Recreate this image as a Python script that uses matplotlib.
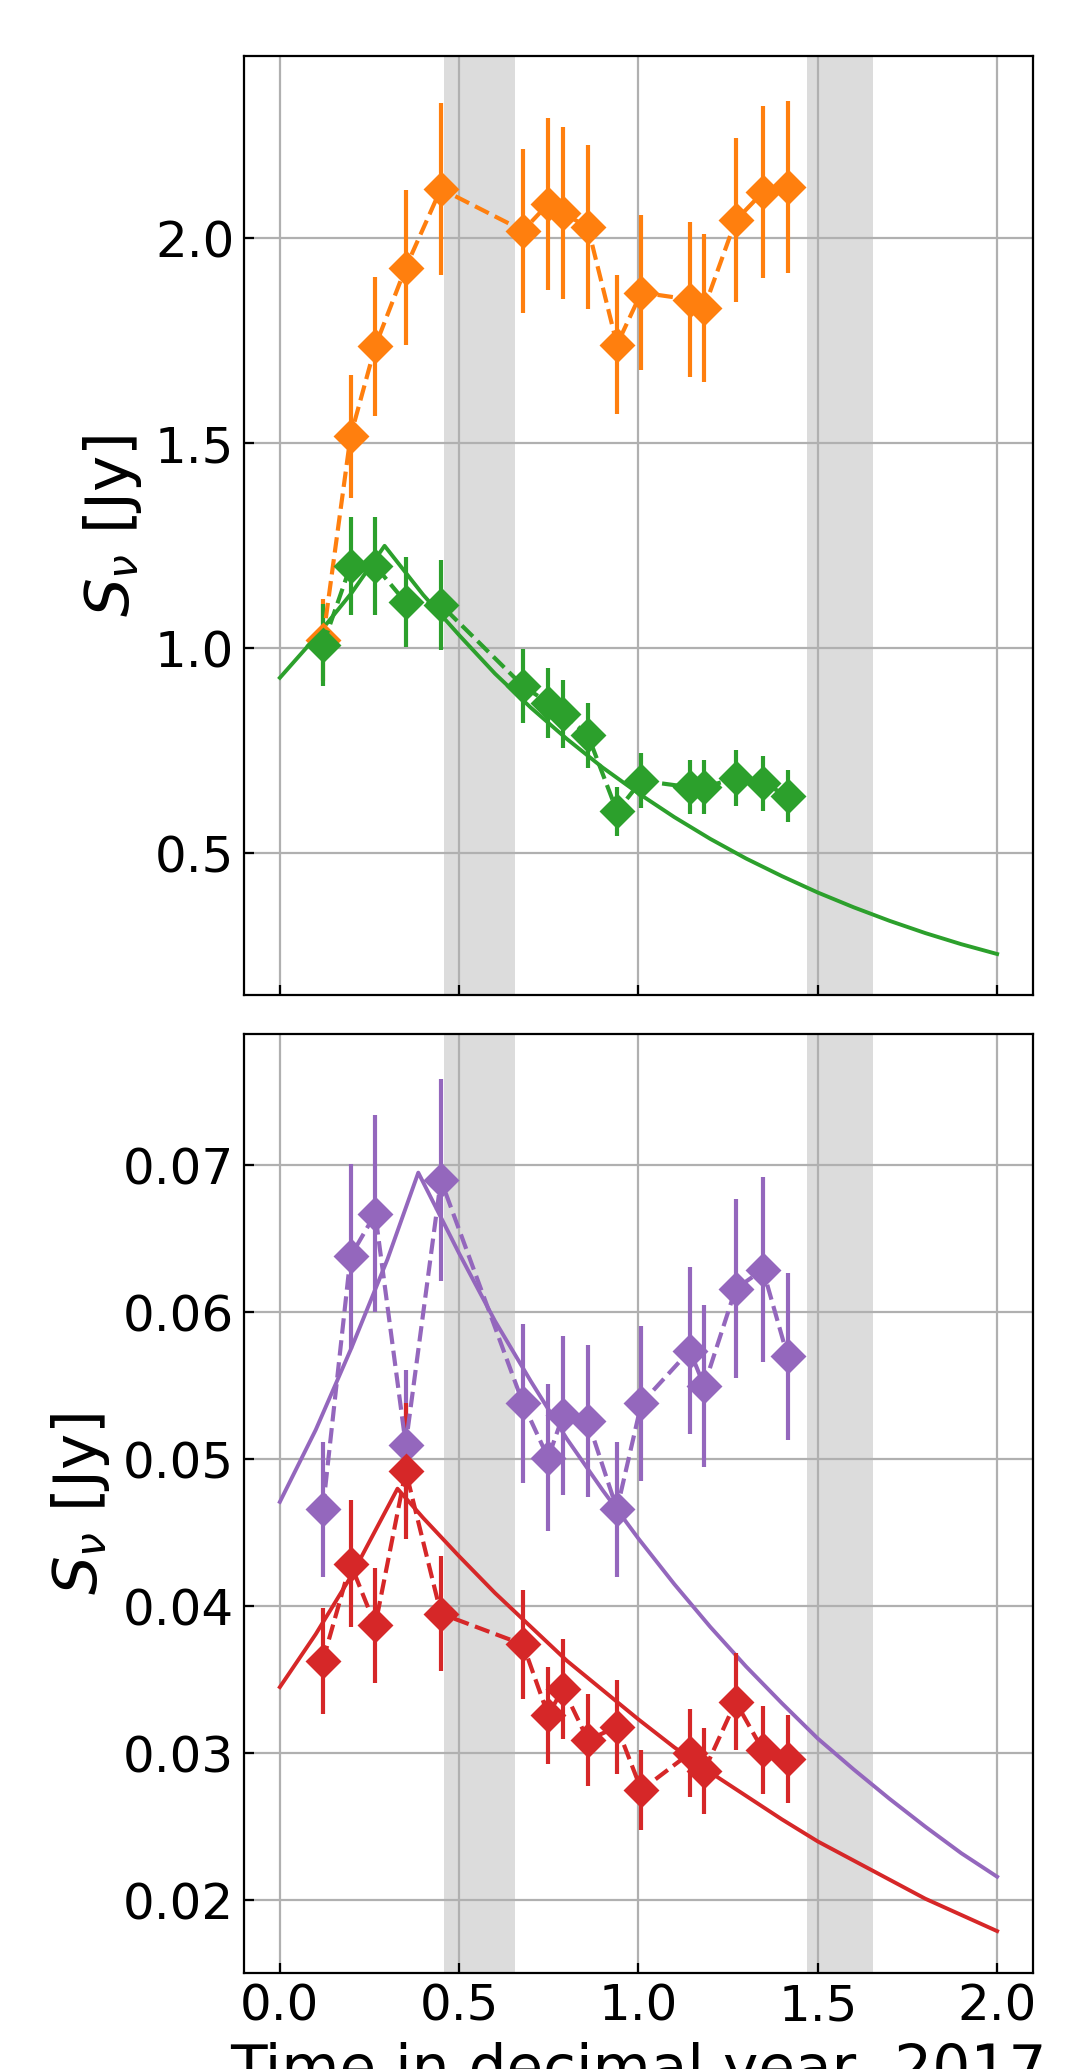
import matplotlib
matplotlib.use("Agg")
import matplotlib.pyplot as plt

# epochs of the observations (decimal year, 2017)
t_obs = [0.120, 0.197, 0.266, 0.351, 0.449, 0.678, 0.748, 0.790,
         0.859, 0.940, 1.008, 1.143, 1.183, 1.271, 1.347, 1.416]

# top panel
flux_orange = [1.02, 1.517, 1.737, 1.929, 2.121, 2.019, 2.084, 2.062,
               2.027, 1.741, 1.868, 1.851, 1.830, 2.044, 2.113, 2.125]
err_orange = [0.10, 0.15, 0.17, 0.19, 0.21, 0.20, 0.21, 0.21,
              0.20, 0.17, 0.19, 0.19, 0.18, 0.20, 0.21, 0.21]
flux_green = [1.008, 1.201, 1.201, 1.112, 1.106, 0.908, 0.867, 0.839,
              0.788, 0.602, 0.677, 0.661, 0.661, 0.683, 0.671, 0.640]
err_green = [0.100, 0.119, 0.119, 0.110, 0.109, 0.090, 0.086, 0.083,
             0.079, 0.060, 0.067, 0.066, 0.066, 0.068, 0.067, 0.064]

# bottom panel
flux_purple = [0.0466, 0.0638, 0.0667, 0.0510, 0.0690, 0.0538, 0.0501, 0.0530,
               0.0526, 0.0466, 0.0538, 0.0574, 0.0550, 0.0616, 0.0629, 0.0570]
err_purple = [0.0046, 0.0063, 0.0067, 0.0051, 0.0069, 0.0054, 0.0050, 0.0054,
              0.0052, 0.0046, 0.0053, 0.0057, 0.0055, 0.0061, 0.0063, 0.0057]
flux_red = [0.0363, 0.0429, 0.0387, 0.0492, 0.0395, 0.0374, 0.0326, 0.0344,
            0.0309, 0.0318, 0.0275, 0.0300, 0.0288, 0.0335, 0.0302, 0.0296]
err_red = [0.0036, 0.0043, 0.0039, 0.0046, 0.0039, 0.0037, 0.0033, 0.0034,
           0.0031, 0.0032, 0.0027, 0.0030, 0.0029, 0.0033, 0.0030, 0.0030]

# model curves
t_fit_green = [0.0, 0.1, 0.2, 0.292, 0.4, 0.5, 0.6, 0.7, 0.8, 0.9, 1.0,
               1.1, 1.2, 1.3, 1.4, 1.5, 1.6, 1.7, 1.8, 1.9, 2.0]
fit_green = [0.928, 1.027, 1.135, 1.250, 1.130, 1.032, 0.938, 0.855, 0.779,
             0.709, 0.646, 0.588, 0.535, 0.487, 0.444, 0.404, 0.368, 0.335,
             0.305, 0.278, 0.254]

t_fit_purple = [0.0, 0.1, 0.2, 0.3, 0.386, 0.5, 0.6, 0.7, 0.8, 0.9, 1.0,
                1.1, 1.2, 1.3, 1.4, 1.5, 1.6, 1.7, 1.8, 1.9, 2.0]
fit_purple = [0.0471, 0.0520, 0.0576, 0.0636, 0.0695, 0.0640, 0.0594, 0.0553,
              0.0514, 0.0479, 0.0446, 0.0415, 0.0386, 0.0359, 0.0334, 0.0310,
              0.0289, 0.0269, 0.0250, 0.0232, 0.0216]

t_fit_red = [0.0, 0.1, 0.2, 0.328, 0.4, 0.5, 0.6, 0.7, 0.8, 0.9, 1.0,
             1.1, 1.2, 1.3, 1.4, 1.5, 1.6, 1.7, 1.8, 1.9, 2.0]
fit_red = [0.0345, 0.0381, 0.0421, 0.0480, 0.0460, 0.0434, 0.0409, 0.0386,
           0.0363, 0.0343, 0.0323, 0.0304, 0.0287, 0.0271, 0.0255, 0.0240,
           0.0227, 0.0214, 0.0201, 0.0190, 0.0179]

# periods without observations
gaps = [(0.459, 0.655), (1.470, 1.653)]

plt.rcParams['font.size'] = 18

fig, (ax1, ax2) = plt.subplots(2, 1, figsize=(5.41, 10.345), dpi=200, sharex=True)
fig.subplots_adjust(left=0.2255, right=0.9547, top=0.9729, bottom=0.0464, hspace=0.0425)

for ax in (ax1, ax2):
    for g0, g1 in gaps:
        ax.axvspan(g0, g1, color='#dcdcdc', lw=0)
    ax.grid(True)
    ax.tick_params(direction='in', labelsize=18)
    ax.set_ylabel(r'$S_\nu$ [Jy]', fontsize=22)

# --- top panel ---
ax1.errorbar(t_obs, flux_orange, yerr=err_orange, fmt='D--', color='tab:orange',
             ms=8, elinewidth=1.5)
ax1.errorbar(t_obs, flux_green, yerr=err_green, fmt='D--', color='tab:green',
             ms=8, elinewidth=1.5)
ax1.plot(t_fit_green, fit_green, color='tab:green', lw=1.4)
ax1.set_ylim(0.155, 2.445)
ax1.set_yticks([0.5, 1.0, 1.5, 2.0])

# --- bottom panel ---
ax2.errorbar(t_obs, flux_purple, yerr=err_purple, fmt='D--', color='tab:purple',
             ms=8, elinewidth=1.5)
ax2.plot(t_fit_purple, fit_purple, color='tab:purple', lw=1.4)
ax2.errorbar(t_obs, flux_red, yerr=err_red, fmt='D--', color='tab:red',
             ms=8, elinewidth=1.5)
ax2.plot(t_fit_red, fit_red, color='tab:red', lw=1.4)
ax2.set_ylim(0.01505, 0.0789)
ax2.set_yticks([0.02, 0.03, 0.04, 0.05, 0.06, 0.07])

ax2.set_xlim(-0.1, 2.1)
ax2.set_xticks([0.0, 0.5, 1.0, 1.5, 2.0])
ax2.set_xlabel('Time in decimal year, 2017', fontsize=21.5)

fig.savefig('out.png', dpi=200)
